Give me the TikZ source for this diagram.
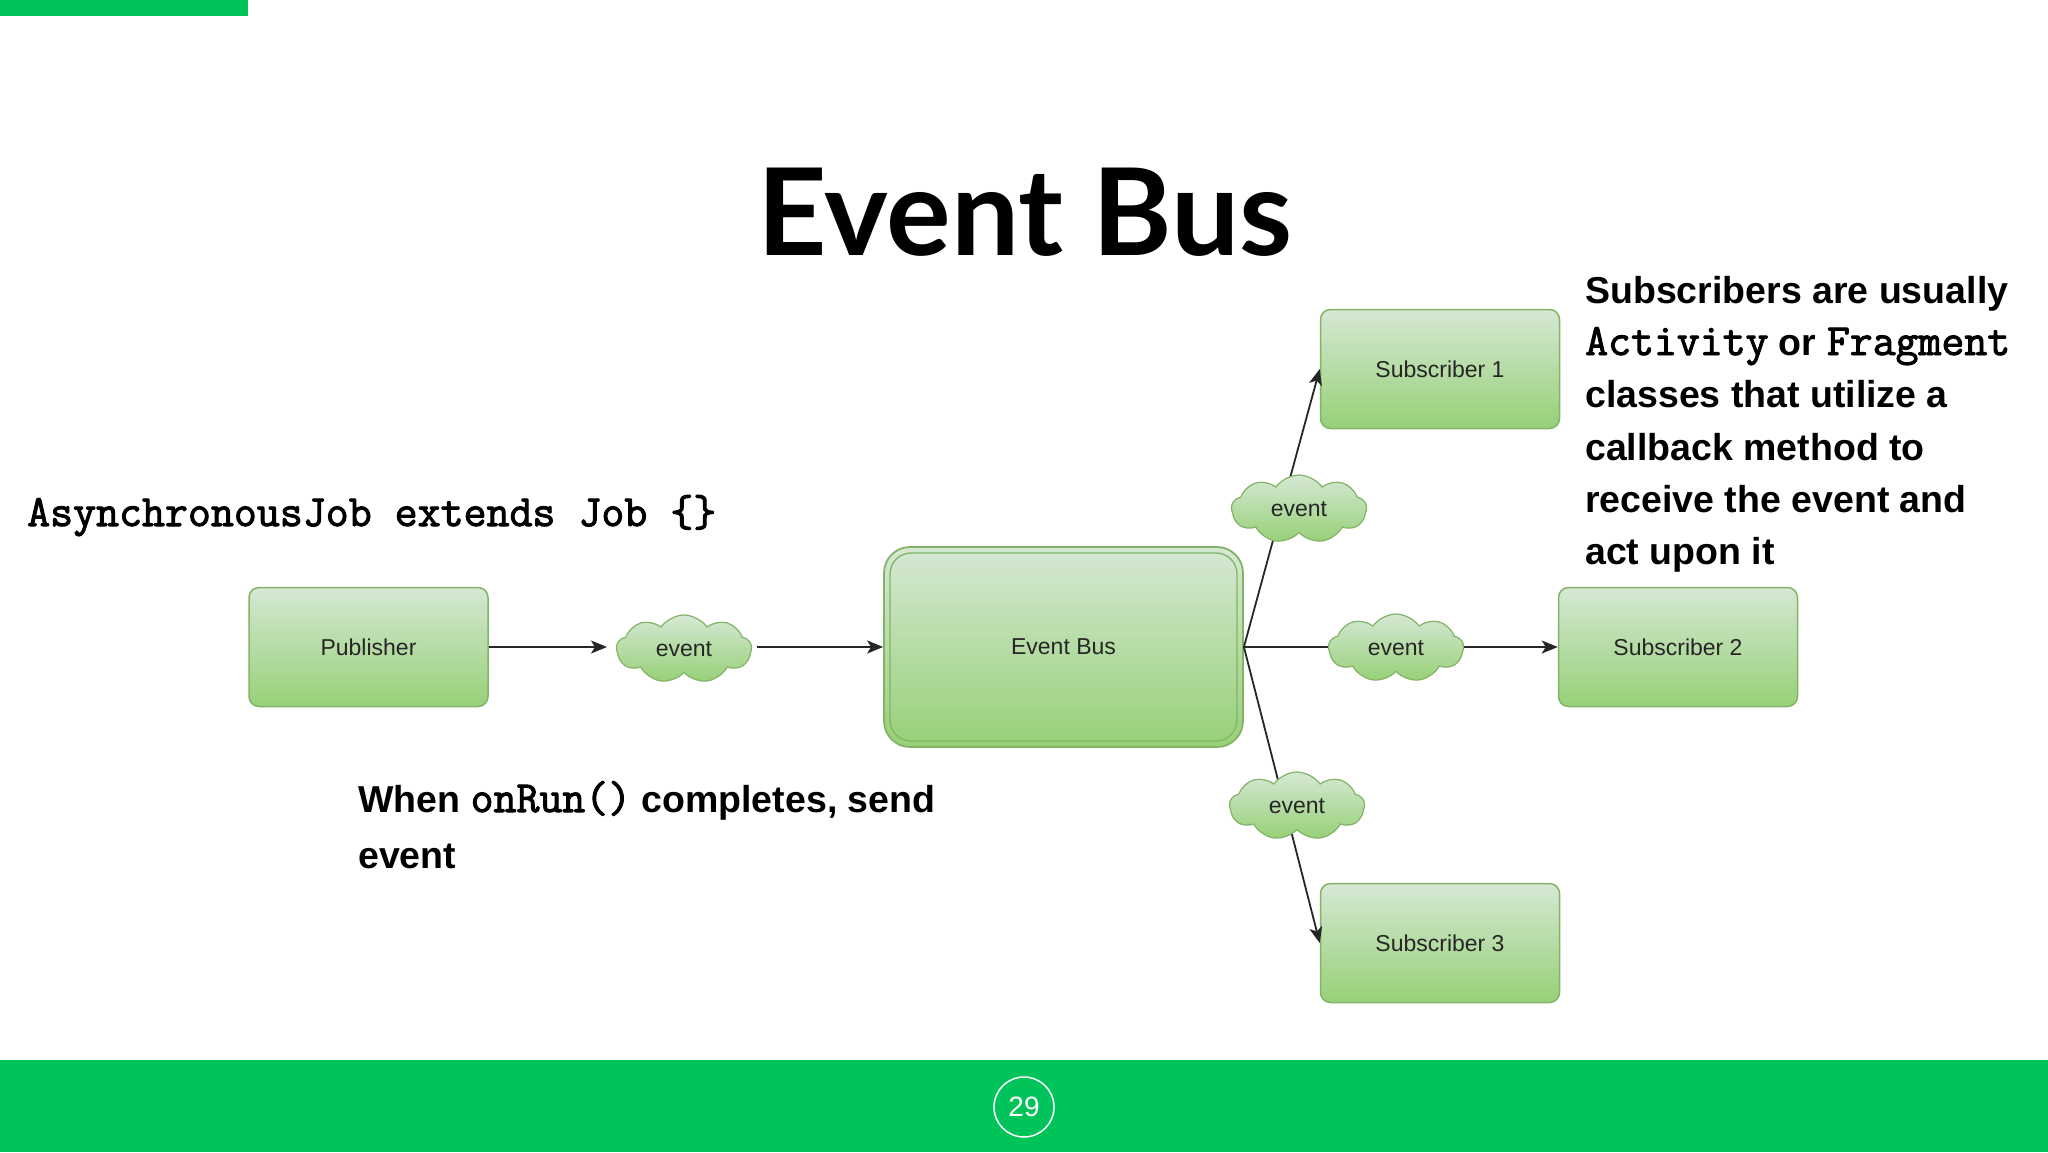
\documentclass[tikz,border=0pt]{standalone}
\usepackage{fontspec}
\setmainfont{Liberation Sans}
\setmonofont[AutoFakeBold=2.2]{Latin Modern Mono}
\newfontfamily\titlefont{Lato}
\usetikzlibrary{shapes.symbols,arrows.meta}
\definecolor{slidegreen}{RGB}{0,196,90}
\definecolor{boxtop}{HTML}{D5E8D4}
\definecolor{boxbot}{HTML}{97D077}
\definecolor{boxline}{HTML}{82B366}
\newcommand\codefont{\fontsize{44.6}{46}\ttfamily\bfseries\selectfont}
\newcommand\inlinecode[1]{{\fontsize{44.5}{46}\ttfamily\bfseries\selectfont #1}}
\tikzset{
 gbox/.style={draw=boxline, line width=1.5pt, top color=boxtop, bottom color=boxbot, rounded corners=10pt, minimum width=239pt, minimum height=119pt, inner sep=0pt, font=\fontsize{23}{27}\selectfont, text=black!85},
 evcloud/.style={cloud, cloud puffs=9, cloud puff arc=110, aspect=2, draw=boxline, line width=1.2pt, top color=boxtop, bottom color=boxbot, minimum width=135pt, minimum height=68pt, inner sep=0pt, font=\fontsize{23}{27}\selectfont, text=black!85},
 conn/.style={line width=1.8pt, draw=black!85},
 arr/.style={conn, -{Stealth[length=16pt,width=13pt,inset=4pt]}},
 bodytext/.style={anchor=base west, inner sep=0pt, font=\fontsize{37.5}{44}\bfseries\selectfont},
 codetext/.style={anchor=base west, inner sep=0pt, font=\codefont},
}
\begin{document}
\begin{tikzpicture}[x=1pt,y=-1pt]
\useasboundingbox (0,0) rectangle (2048,1152);
\fill[white] (0,0) rectangle (2048,1152);
% bars
\fill[slidegreen] (0,0) rectangle (248,16);
\fill[slidegreen] (0,1060) rectangle (2048,1152);
\node[circle, draw=white, line width=1.5pt, minimum size=60pt, inner sep=0pt, text=white, font=\fontsize{28}{30}\selectfont] (pg) at (1024,1107) {29};
% title
\node[anchor=base, inner sep=0pt, font=\titlefont\bfseries\fontsize{121}{140}\selectfont] (title) at (1025,255) {Event Bus};
% texts
\node[codetext] (code) at (27,526) {AsynchronousJob extends Job \{\}};
\node[bodytext] (w1) at (358,812) {When \inlinecode{onRun()} completes, send};
\node[bodytext] (w2) at (358,868) {event};
\node[bodytext] (s1) at (1585,303) {Subscribers are usually};
\node[bodytext] (s2) at (1585,355) {\inlinecode{Activity} or \inlinecode{Fragment}};
\node[bodytext] (s3) at (1585,407) {classes that utilize a};
\node[bodytext] (s4) at (1585,460) {callback method to};
\node[bodytext] (s5) at (1585,512) {receive the event and};
\node[bodytext] (s6) at (1585,564) {act upon it};
% boxes
\node[gbox] (pub) at (368.5,647) {Publisher};
\node[gbox, rounded corners=26pt, minimum width=359pt, minimum height=200pt, line width=1.8pt] (eb) at (1063.5,647) {Event Bus};
\node[draw=boxline, line width=1.3pt, rounded corners=21pt, minimum width=347pt, minimum height=188pt] (ebin) at (eb.center) {};
\node[gbox] (sub1) at (1440,369) {Subscriber 1};
\node[gbox] (sub2) at (1678,647) {Subscriber 2};
\node[gbox] (sub3) at (1440,943) {Subscriber 3};
% connectors
\coordinate (c1w) at (607,647);
\coordinate (c1e) at (757,647);
\draw[arr] (pub.east) -- (c1w);
\draw[arr] (c1e) -- (eb.west);
\draw[arr] (eb.east) -- (sub1.west);
\draw[arr] (eb.east) -- (sub2.west);
\draw[arr] (eb.east) -- (sub3.west);
% clouds
\node[evcloud] (ev1) at (684,649) {event};
\node[evcloud] (ev2) at (1299,509) {event};
\node[evcloud] (ev3) at (1396,648) {event};
\node[evcloud] (ev4) at (1297,806) {event};
\end{tikzpicture}
\end{document}
